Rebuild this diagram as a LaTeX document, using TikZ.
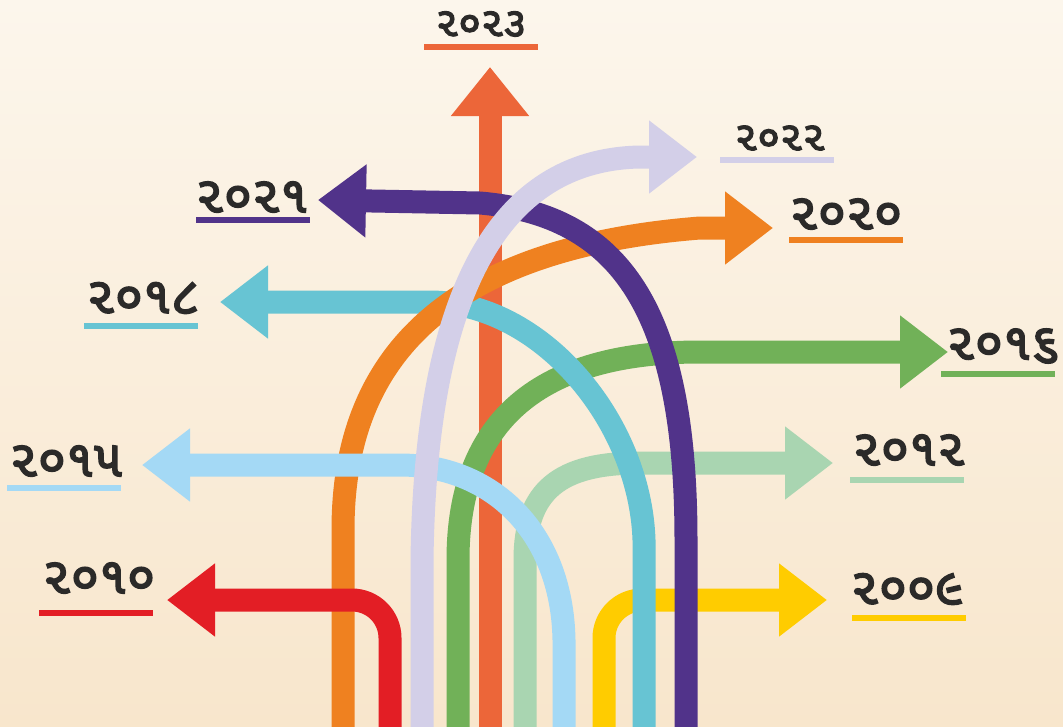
\documentclass[tikz,border=0pt]{standalone}
\usepackage{fontspec}
\usepackage{tikz}
\usetikzlibrary{arrows.meta}
\newfontfamily\guj[Script=Gujarati,FakeBold=3]{Noto Sans Gujarati UI}
\definecolor{bgtop}{HTML}{FCF6EC}
\definecolor{bgbot}{HTML}{F8E6CC}
\definecolor{ink}{HTML}{2B2A29}
\definecolor{cA}{HTML}{EC6639}
\definecolor{cB}{HTML}{D3CFE8}
\definecolor{cC}{HTML}{51338A}
\definecolor{cD}{HTML}{EF8120}
\definecolor{cE}{HTML}{67C4D3}
\definecolor{cF}{HTML}{71B158}
\definecolor{cG}{HTML}{A4D9F5}
\definecolor{cH}{HTML}{A9D5B1}
\definecolor{cI}{HTML}{E31E25}
\definecolor{cJ}{HTML}{FFCC00}
\begin{document}
\begin{tikzpicture}[x=1pt,y=-1pt,
  band/.style={line width=23pt,-{Triangle[width=70pt,length=48pt]}},
  year/.style={text=ink,font=\guj\fontsize{51}{51}\selectfont,inner sep=0pt},
  small/.style={font=\guj\fontsize{41}{41}\selectfont},
  uline/.style={line width=6pt}]
\useasboundingbox (0,0) rectangle (1063,726);
\shade[top color=bgtop,bottom color=bgbot] (0,0) rectangle (1063,726);
\clip (0,0) rectangle (1063,726);
\draw[band,cA,-{Triangle[width=75pt,length=49pt]}] (490,740) -- (490,67);
\draw[band,cJ,rounded corners=38pt] (604,740) |- (827,600);
\draw[band,cH] (525,740) -- (525,560) .. controls (525,490) and (560,463) .. (640,463) -- (833,463);
\draw[band,cF] (458,740) -- (458,560) .. controls (458,420) and (540,352) .. (700,352) -- (948,352);
\draw[band,cE] (644,740) -- (644,540) .. controls (640,420) and (540,302) .. (430,302) -- (220,302);
\draw[band,cD] (343,740) -- (343,530) .. controls (343,380) and (420,250) .. (700,228) -- (773,228);
\draw[band,cG] (564,740) -- (564,640) .. controls (562,530) and (490,465) .. (400,465) -- (142,465);
\draw[band,cC] (686,740) -- (686,540) .. controls (686,310) and (620,215) .. (480,203) -- (318,200);
\draw[band,cB] (422,740) -- (422,560) .. controls (425,330) and (480,160) .. (640,157) -- (697,157);
\draw[band,cI,rounded corners=38pt] (390,740) |- (167,600);
\node[year,small] (y23) at (481,24) {૨૦૨૩};
\node[year,small] (y22) at (780,138) {૨૦૨૨};
\node[year] (y21) at (252,197) {૨૦૨૧};
\node[year] (y20) at (846,214) {૨૦૨૦};
\node[year] (y18) at (143,298) {૨૦૧૮};
\node[year] (y16) at (1003,346) {૨૦૧૬};
\node[year] (y15) at (66,461) {૨૦૧૫};
\node[year] (y12) at (909,450) {૨૦૧૨};
\node[year] (y10) at (99,578) {૨૦૧૦};
\node[year] (y09) at (907,589) {૨૦૦૯};
\draw[uline,cA] (424,47) -- (538,47);
\draw[uline,cB] (720,160) -- (834,160);
\draw[uline,cC] (196,220) -- (310,220);
\draw[uline,cD] (789,240) -- (903,240);
\draw[uline,cE] (84,326) -- (198,326);
\draw[uline,cF] (941,374) -- (1055,374);
\draw[uline,cG] (7,488) -- (121,488);
\draw[uline,cH] (850,480) -- (964,480);
\draw[uline,cI] (39,613) -- (153,613);
\draw[uline,cJ] (852,618) -- (966,618);
\end{tikzpicture}
\end{document}
